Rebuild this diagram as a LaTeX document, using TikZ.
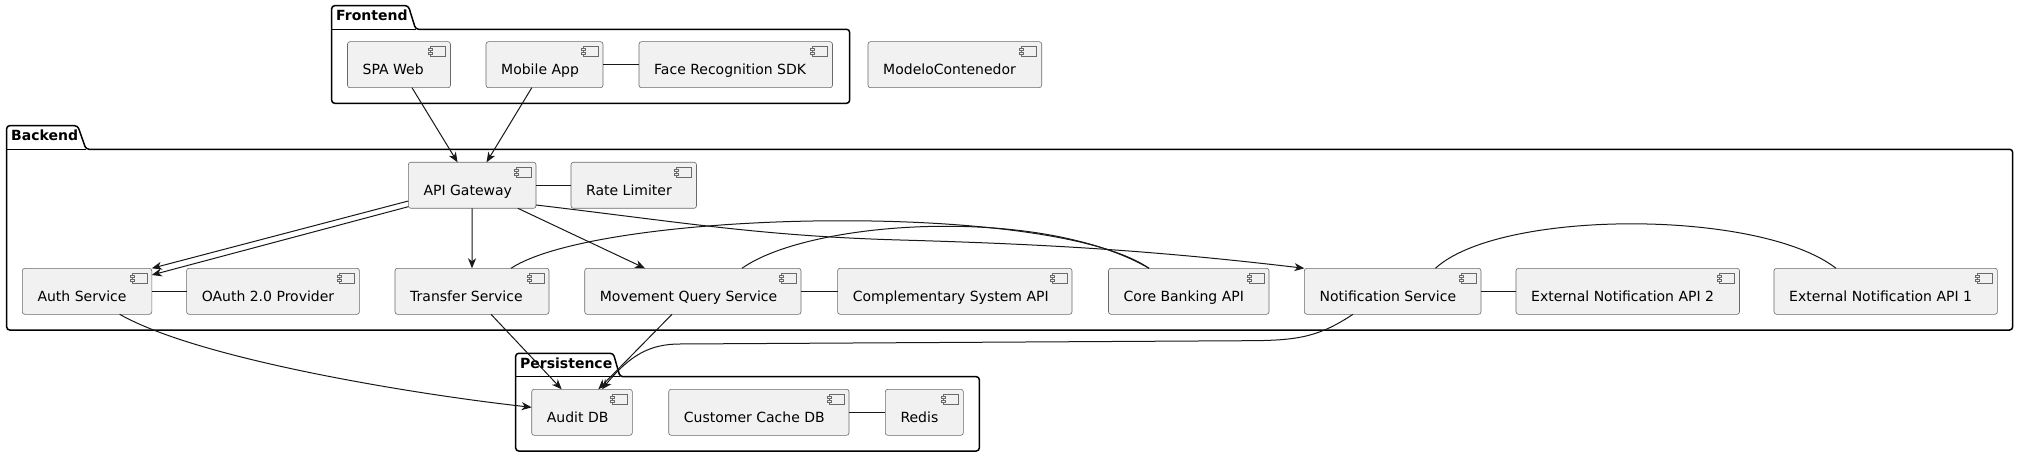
\documentclass[tikz,border=0pt]{standalone}
\usepackage{fontspec}
\setmainfont{DejaVu Sans}
\usetikzlibrary{arrows.meta,calc}
\definecolor{boxfill}{HTML}{F1F1F1}
\definecolor{boxline}{HTML}{6A6A6A}
\definecolor{conn}{HTML}{181818}
\tikzset{
 compbox/.style={draw=boxline, fill=boxfill, line width=0.6pt, rounded corners=2.5pt, minimum height=46pt, inner sep=0pt, outer sep=0pt, anchor=north west},
 complabel/.style={font=\fontsize{14pt}{16pt}\selectfont, inner sep=0pt, anchor=base west, text=black},
 compicon/.style={draw=boxline, fill=boxfill, line width=0.6pt},
 pkgline/.style={draw=black, line width=1.5pt, rounded corners=3pt},
 pkgtitle/.style={font=\bfseries\fontsize{14pt}{16pt}\selectfont, inner sep=0pt, anchor=base west},
 link/.style={draw=conn, line width=1pt},
 arr/.style={link, -{Stealth[length=10pt,width=8pt,inset=3pt]}},
}
\newcommand\mkcomp[5]{%
 \node[compbox, minimum width={#4-#2}] (#1) at (#2,#3) {};
 \node[complabel] (#1-t) at ([xshift=15pt,yshift=-33pt]#1.north west) {#5};
 \draw[compicon] ([xshift=-20pt,yshift=-5pt]#1.north east) rectangle ([xshift=-5pt,yshift=-15pt]#1.north east);
 \draw[compicon] ([xshift=-22pt,yshift=-7pt]#1.north east) rectangle ([xshift=-18pt,yshift=-9pt]#1.north east);
 \draw[compicon] ([xshift=-22pt,yshift=-11pt]#1.north east) rectangle ([xshift=-18pt,yshift=-13pt]#1.north east);
}
\newcommand\mkpkg[9]{%
 \draw[pkgline] (#2,#8) -- (#2,#3) -- (#4,#3) -- (#5,#6) -- (#7,#6) -- (#7,#8) -- cycle;
 \draw[pkgline] (#2,#6) -- (#5,#6);
 \node[pkgtitle] (#1) at (#2+4.3,#3+15) {#9};
}
\begin{document}
\begin{tikzpicture}[x=1pt,y=-1pt]
\useasboundingbox[fill=white] (0,0) rectangle (2019,457);
% packages
\mkpkg{pfront}{331.7}{5.7}{408.3}{415.7}{29.3}{849.6}{103.3}{Frontend}
\mkpkg{pback}{6.7}{125.7}{77.7}{86}{149.3}{2012.6}{330}{Backend}
\mkpkg{ppers}{515.7}{353.3}{613.3}{620}{376.7}{979.3}{451}{Persistence}
% components
\mkcomp{spa}{347.5}{41.7}{450.5}{SPA Web}
\mkcomp{mobile}{486}{41.7}{603}{Mobile App}
\mkcomp{face}{639}{41.7}{832.5}{Face Recognition SDK}
\mkcomp{modelo}{868}{41.7}{1041.7}{ModeloContenedor}
\mkcomp{gw}{408.3}{162.3}{536}{API Gateway}
\mkcomp{rate}{571}{162.3}{696.5}{Rate Limiter}
\mkcomp{auth}{22.3}{268.3}{151.8}{Auth Service}
\mkcomp{oauth}{186.6}{268.3}{359.4}{OAuth 2.0 Provider}
\mkcomp{transfer}{395}{268.3}{549}{Transfer Service}
\mkcomp{movement}{584.7}{268.3}{801}{Movement Query Service}
\mkcomp{compsys}{837.6}{268.3}{1072}{Complementary System API}
\mkcomp{core}{1108.5}{268.3}{1269}{Core Banking API}
\mkcomp{notif}{1304.4}{268.3}{1481}{Notification Service}
\mkcomp{ext2}{1516}{268.3}{1739.5}{External Notification API 2}
\mkcomp{ext1}{1774}{268.3}{1997.4}{External Notification API 1}
\mkcomp{audit}{531.7}{389.3}{632.3}{Audit DB}
\mkcomp{cache}{668.7}{389.3}{849}{Customer Cache DB}
\mkcomp{redis}{885.3}{389.3}{963.3}{Redis}
% connectors
\draw[arr] ([xshift=13pt]spa.south) -- ([xshift=-14.6pt]gw.north);
\draw[arr] ([xshift=-12.7pt]mobile.south) -- ([xshift=14.4pt]gw.north);
\draw[link] (mobile.east) -- (face.west);
\draw[link] (gw.east) -- (rate.west);
\draw[arr] ([yshift=-15.7pt]gw.west) -- (auth.north east);
\draw[arr] ([yshift=-21.4pt]gw.west) -- ([yshift=-6.7pt]auth.north east);
\draw[arr] (gw.south) -- (transfer.north);
\draw[arr] ([xshift=45.7pt]gw.south) -- ([xshift=-47.85pt]movement.north);
\draw[arr] ([yshift=-19.7pt]gw.east) .. controls (680,222) and (760,236) .. (900,240) .. controls (1040,244) and (1150,250) .. (notif.north west);
\draw[link] ([xshift=39pt]transfer.north) .. controls (600,210) and (1050,200) .. ([xshift=-39.75pt]core.north);
\draw[link] ([xshift=49.15pt]movement.north) .. controls (810,220) and (1040,205) .. ([xshift=-39.75pt]core.north);
\draw[link] (movement.east) -- (compsys.west);
\draw[link] ([xshift=42.7pt]notif.north) .. controls (1500,209) and (1760,209) .. ([xshift=-49.7pt]ext1.north);
\draw[link] (notif.east) -- (ext2.west);
\draw[link] (auth.east) -- (oauth.west);
\draw[link] (cache.east) -- (redis.west);
\draw[arr] ([xshift=32.6pt]auth.south) .. controls (200,360) and (420,395) .. ([yshift=5pt]audit.west);
\draw[arr] ([xshift=19pt]transfer.south) -- ([xshift=-20.3pt]audit.north);
\draw[arr] ([xshift=-20.85pt]movement.south) -- ([xshift=16.3pt]audit.north);
\draw[arr] ([xshift=-39.7pt]notif.south) .. controls (1320,336) and (1300,340.5) .. (1250,340.7) -- (680,344) .. controls (650,344) and (630,355) .. ([xshift=20pt]audit.north);
\end{tikzpicture}
\end{document}
